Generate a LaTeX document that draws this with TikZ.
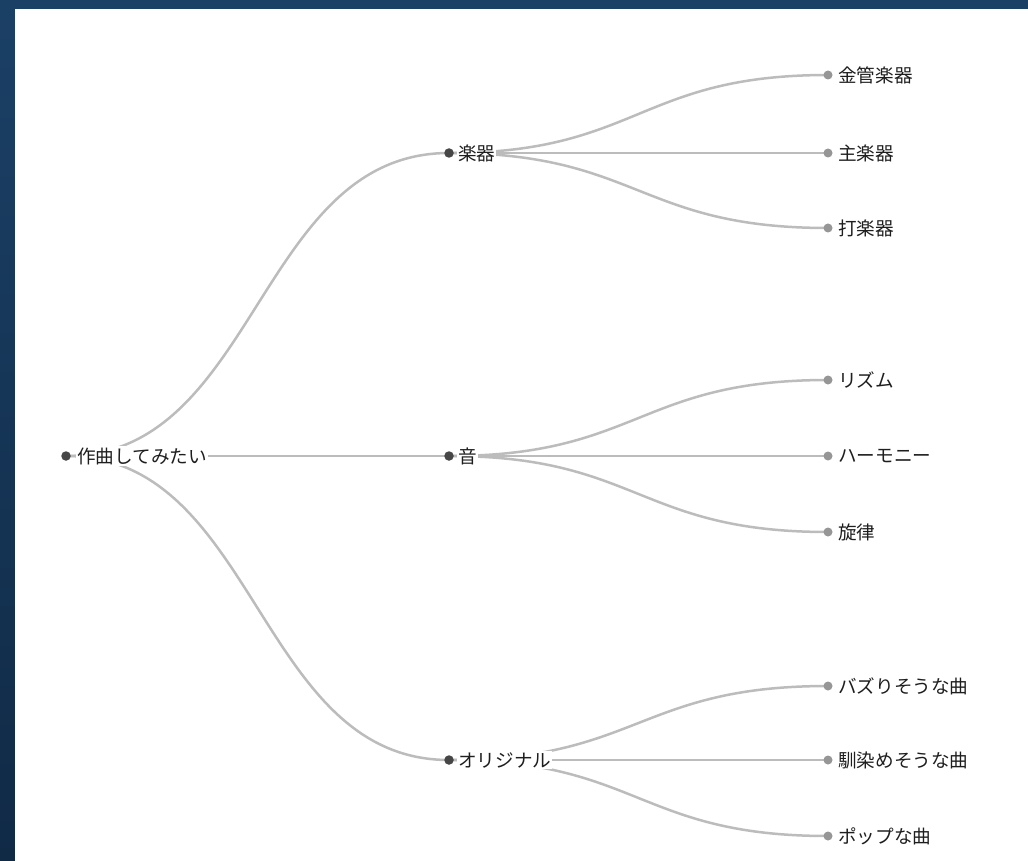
\documentclass[tikz,border=0pt]{standalone}
\usepackage{fontspec}
\newfontfamily\jp{Noto Sans CJK JP}
\usetikzlibrary{calc}
\definecolor{bgblue}{RGB}{27,64,102}
\definecolor{bgdark}{RGB}{16,42,70}
\definecolor{linkgray}{RGB}{188,188,188}
\definecolor{inner}{RGB}{70,70,70}
\definecolor{leafc}{RGB}{150,150,150}
\definecolor{txt}{RGB}{30,30,30}
\tikzset{
  idot/.style={circle,fill=inner,inner sep=0pt,minimum size=9.5pt},
  ldot/.style={circle,fill=leafc,inner sep=0pt,minimum size=9pt},
  lbl/.style={anchor=west,fill=white,inner sep=1pt,text=txt,font=\jp\fontsize{18.6}{20}\selectfont},
  link/.style={draw=linkgray,line width=2.5pt}
}
\newcommand\lnk[2]{\path[link] let \p1=(#1.center),\p2=(#2.center) in (\p1) .. controls ({(\x1+\x2)/2},\y1) and ({(\x1+\x2)/2},\y2) .. (\p2);}
\begin{document}
\begin{tikzpicture}[x=1pt,y=-1pt]
\shade[top color=bgblue,bottom color=bgdark] (0,0) rectangle (1028,861);
\fill[white] (15,9) rectangle (1028,861);
\useasboundingbox (0,0) rectangle (1028,861);
% anchor coordinates (dot centres)
\coordinate (r) at (66,456);
\coordinate (a) at (449,153);
\coordinate (b) at (449,456);
\coordinate (c) at (449,760);
\coordinate (a1) at (828,75);
\coordinate (a2) at (828,153);
\coordinate (a3) at (828,228);
\coordinate (b1) at (828,380);
\coordinate (b2) at (828,456);
\coordinate (b3) at (828,532);
\coordinate (c1) at (828,686);
\coordinate (c2) at (828,760);
\coordinate (c3) at (828,836);
% links
\lnk{r}{a}\lnk{r}{b}\lnk{r}{c}
\lnk{a}{a1}\lnk{a}{a2}\lnk{a}{a3}
\lnk{b}{b1}\lnk{b}{b2}\lnk{b}{b3}
\lnk{c}{c1}\lnk{c}{c2}\lnk{c}{c3}
% labels
\node[lbl] (tr) at (76,456) {作曲してみたい};
\node[lbl] (ta) at (457,153) {楽器};
\node[lbl] (tb) at (457,456) {音};
\node[lbl] (tc) at (457,760) {オリジナル};
\node[lbl] (ta1) at (837,75) {金管楽器};
\node[lbl] (ta2) at (837,153) {主楽器};
\node[lbl] (ta3) at (837,228) {打楽器};
\node[lbl] (tb1) at (837,380) {リズム};
\node[lbl] (tb2) at (837,456) {ハーモニー};
\node[lbl] (tb3) at (837,532) {旋律};
\node[lbl] (tc1) at (837,686) {バズりそうな曲};
\node[lbl] (tc2) at (837,760) {馴染めそうな曲};
\node[lbl] (tc3) at (837,836) {ポップな曲};
% dots on top
\foreach \n in {r,a,b,c} \node[idot] at (\n) {};
\foreach \n in {a1,a2,a3,b1,b2,b3,c1,c2,c3} \node[ldot] at (\n) {};
\end{tikzpicture}
\end{document}
